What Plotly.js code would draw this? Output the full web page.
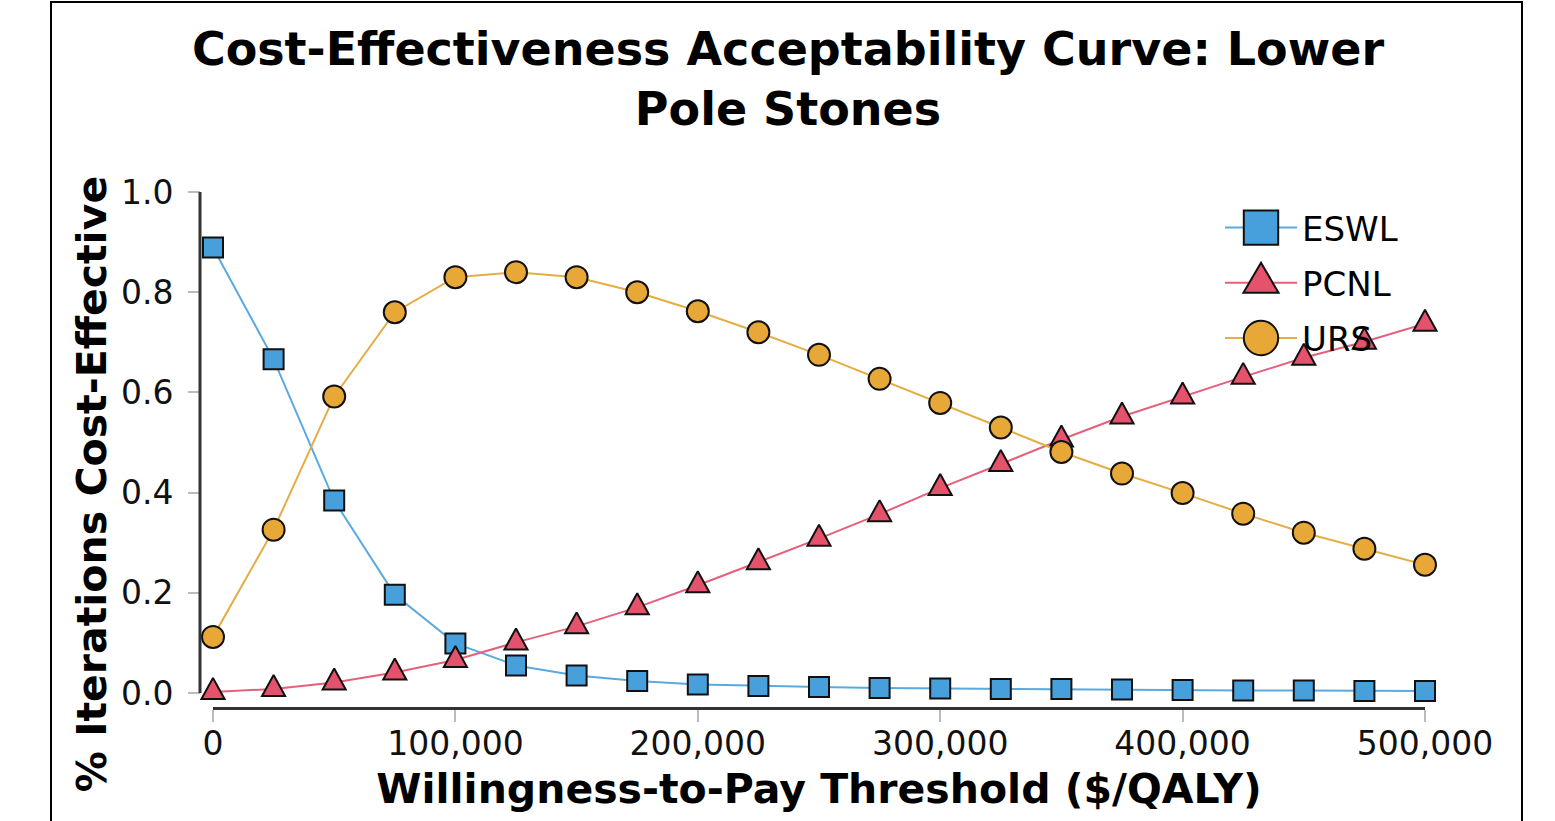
<!DOCTYPE html>
<html>
<head>
<meta charset="utf-8">
<script src="https://cdn.plot.ly/plotly-3.0.1.min.js"></script>
<style>
html,body{margin:0;padding:0;background:#fff;}
#chart{width:1555px;height:821px;}
</style>
</head>
<body>
<div id="chart"></div>
<script>
// ---- data ----
const wtp = [0, 25000, 50000, 75000, 100000, 125000, 150000, 175000, 200000, 225000,
             250000, 275000, 300000, 325000, 350000, 375000, 400000, 425000, 450000, 475000, 500000];
const seriesNames = ['ESWL', 'PCNL', 'URS'];
const eswl = [0.889, 0.666, 0.384, 0.196, 0.099, 0.055, 0.035, 0.024, 0.017, 0.014,
              0.012, 0.010, 0.009, 0.008, 0.008, 0.007, 0.006, 0.005, 0.005, 0.004, 0.004];
const pcnl = [0.002, 0.008, 0.021, 0.041, 0.066, 0.101, 0.133, 0.171, 0.215, 0.261,
              0.308, 0.357, 0.409, 0.457, 0.506, 0.552, 0.592, 0.631, 0.669, 0.701, 0.737];
const urs  = [0.112, 0.326, 0.592, 0.760, 0.830, 0.840, 0.830, 0.800, 0.762, 0.720,
              0.675, 0.627, 0.579, 0.530, 0.481, 0.438, 0.399, 0.358, 0.320, 0.288, 0.256];
const xTicks = [0, 100000, 200000, 300000, 400000, 500000];
const yTicks = [0, 0.2, 0.4, 0.6, 0.8, 1.0];

// ---- layout geometry ----
const W = 1555, H = 821;
const mL = 150, mR = 130, mT = 192, mB = 45;
const pw = W - mL - mR, ph = H - mT - mB;
const xDomStart = (213 - mL) / pw;
const yAxisPos = (200 - mL) / pw;
const yMin = 1 - ph / 501;          // so that y=0 sits at pixel 693
const xAxisPos = (H - mB - 708) / ph;

const FONT = 'DejaVu Sans, Verdana, sans-serif';
const styles = [
  {color: '#479fdc', line: '#5aaadf', symbol: 'square', size: 20},
  {color: '#e5526b', line: '#e5607a', symbol: 'triangle-up', size: 20},
  {color: '#e8a838', line: '#e4ad45', symbol: 'circle', size: 22}
];
const values = [eswl, pcnl, urs];

const traces = values.map((v, i) => ({
  type: 'scatter',
  mode: 'lines+markers',
  name: seriesNames[i],
  legendgroup: seriesNames[i],
  x: wtp,
  y: v,
  cliponaxis: false,
  line: {color: styles[i].line, width: 2},
  marker: {symbol: styles[i].symbol, size: styles[i].size, color: styles[i].color,
           line: {color: '#111', width: 2}}
}));

const axisCommon = {
  showgrid: false, zeroline: false, showline: false,
  ticks: 'outside', ticklen: 12, tickwidth: 2, tickcolor: '#bbbbbb',
  tickfont: {family: FONT, size: 33, color: '#111'}
};

const layout = {
  width: W, height: H,
  paper_bgcolor: '#fff', plot_bgcolor: 'rgba(0,0,0,0)',
  margin: {l: mL, r: mR, t: mT, b: mB, pad: 0},
  title: {
    text: 'Cost-Effectiveness Acceptability Curve: Lower<br>Pole Stones',
    font: {family: FONT, size: 46, weight: 700, color: '#000'},
    xref: 'container', x: 788 / W, xanchor: 'center',
    yref: 'container', y: 1 - 65 / H, yanchor: 'top'
  },
  xaxis: Object.assign({}, axisCommon, {
    domain: [xDomStart, 1], range: [0, 500000], autorange: false,
    anchor: 'free', position: xAxisPos,
    showline: true, linecolor: '#333', linewidth: 3,
    tickvals: xTicks, tickformat: ',d', ticklabelstandoff: -7,
    title: {text: 'Willingness-to-Pay Threshold ($/QALY)', standoff: 12,
            font: {family: FONT, size: 41, weight: 700, color: '#000'}}
  }),
  yaxis: Object.assign({}, axisCommon, {
    domain: [0, 1], range: [yMin, 1], autorange: false,
    anchor: 'free', position: yAxisPos,
    tickvals: yTicks, tickformat: '.1f', ticklabelstandoff: 8,
    title: {text: '% Iterations Cost-Effective', standoff: 0,
            font: {family: FONT, size: 41, weight: 700, color: '#000'}}
  }),
  xaxis2: {overlaying: 'x', domain: [xDomStart, 1], range: [0, 500000], autorange: false,
           anchor: 'free', position: xAxisPos, showgrid: false, zeroline: false, showline: false,
           ticks: 'inside', ticklen: 12, tickwidth: 2, tickcolor: '#bbbbbb',
           tickvals: xTicks, showticklabels: false},
  yaxis2: {overlaying: 'y', range: [yMin, 1], autorange: false,
           anchor: 'free', position: yAxisPos, showgrid: false, zeroline: false, showline: false,
           ticks: 'inside', ticklen: 12, tickwidth: 2, tickcolor: '#bbbbbb',
           tickvals: yTicks, showticklabels: false},
  showlegend: true,
  legend: {
    x: (1220 - mL) / pw, xanchor: 'left',
    y: (H - mB - 199) / ph, yanchor: 'top',
    bgcolor: 'rgba(0,0,0,0)', borderwidth: 0,
    font: {family: FONT, size: 34, color: '#000'},
    itemwidth: 72, tracegroupgap: 8, traceorder: 'grouped'
  },
  shapes: [
    // y axis line spanning 0..1
    {type: 'line', xref: 'paper', yref: 'y', x0: yAxisPos, x1: yAxisPos, y0: 0, y1: 1,
     line: {color: '#333', width: 3}, layer: 'above'},
    // outer frame
    {type: 'rect', xref: 'paper', yref: 'paper',
     x0: (51 - mL) / pw, x1: (1522 - mL) / pw, y0: -0.3, y1: (H - mB - 2) / ph,
     line: {color: '#000', width: 2}, fillcolor: 'rgba(0,0,0,0)', layer: 'below'}
  ]
};

const gd = document.getElementById('chart');
Plotly.newPlot(gd, traces, layout, {staticPlot: true, displayModeBar: false}).then(() => {
  // enlarge legend symbols (Plotly caps them at 16px)
  const scales = [[2.15, 2.15], [1.9, 2.5], [2.15, 2.15]];
  gd.querySelectorAll('.legend .traces').forEach((g, i) => {
    const p = g.querySelector('.legendpoints path.scatterpts');
    if (!p) return;
    const s = scales[i] || [2.1, 2.1];
    const t = p.getAttribute('transform') || '';
    p.setAttribute('transform', t + ' scale(' + s[0] + ',' + s[1] + ')');
    p.style.vectorEffect = 'non-scaling-stroke';
  });
  // make the plot triangles closer to equilateral, as in the reference
  const layers = gd.querySelectorAll('.scatterlayer .trace');
  if (layers[1]) {
    layers[1].querySelectorAll('path.point').forEach(p => {
      const t = p.getAttribute('transform') || '';
      p.setAttribute('transform', t + ' scale(1,1.4)');
      p.style.vectorEffect = 'non-scaling-stroke';
    });
  }
});
</script>
</body>
</html>
